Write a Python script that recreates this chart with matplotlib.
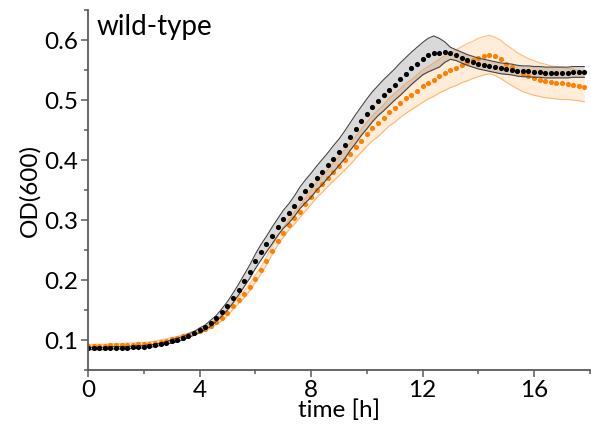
import numpy as np
import matplotlib
matplotlib.use("Agg")
import matplotlib.pyplot as plt
from matplotlib.ticker import MultipleLocator

plt.rcParams['font.family'] = ['Lato', 'DejaVu Sans']

# time points every 0.2 h (12 min)
time_h = np.round(np.arange(90) * 0.2, 1)

# wild-type, condition 1 (black) mean OD600
od_black = [
    0.086, 0.086, 0.086, 0.086, 0.087, 0.087, 0.087, 0.087, 0.088, 0.088,
    0.089, 0.090, 0.091, 0.093, 0.095, 0.098, 0.100, 0.103, 0.107, 0.111,
    0.116, 0.121, 0.128, 0.136, 0.146, 0.157, 0.170, 0.184, 0.199, 0.214,
    0.231, 0.246, 0.260, 0.274, 0.288, 0.301, 0.311, 0.323, 0.337, 0.348,
    0.358, 0.370, 0.380, 0.391, 0.402, 0.413, 0.425, 0.439, 0.452, 0.465,
    0.477, 0.489, 0.499, 0.508, 0.517, 0.526, 0.535, 0.544, 0.553, 0.561,
    0.569, 0.575, 0.579, 0.579, 0.580, 0.578, 0.575, 0.571, 0.567, 0.564,
    0.561, 0.559, 0.557, 0.555, 0.553, 0.552, 0.551, 0.549, 0.548, 0.548,
    0.547, 0.547, 0.546, 0.546, 0.546, 0.546, 0.546, 0.547, 0.547, 0.547,
]
sd_black = [
    0.002, 0.002, 0.002, 0.002, 0.002, 0.002, 0.002, 0.002, 0.002, 0.002,
    0.002, 0.002, 0.002, 0.002, 0.002, 0.003, 0.003, 0.003, 0.003, 0.003,
    0.004, 0.004, 0.005, 0.005, 0.006, 0.007, 0.008, 0.009, 0.010, 0.011,
    0.012, 0.013, 0.013, 0.014, 0.014, 0.015, 0.016, 0.017, 0.018, 0.019,
    0.020, 0.020, 0.021, 0.021, 0.022, 0.022, 0.023, 0.023, 0.024, 0.024,
    0.025, 0.025, 0.025, 0.026, 0.026, 0.026, 0.027, 0.027, 0.027, 0.027,
    0.027, 0.028, 0.028, 0.024, 0.017, 0.010, 0.009, 0.009, 0.009, 0.009,
    0.009, 0.009, 0.009, 0.009, 0.009, 0.009, 0.009, 0.009, 0.009, 0.009,
    0.009, 0.009, 0.009, 0.009, 0.009, 0.009, 0.009, 0.009, 0.009, 0.009,
]

# condition 2 (orange) mean OD600
od_orange = [
    0.090, 0.090, 0.090, 0.090, 0.091, 0.091, 0.091, 0.092, 0.092, 0.093,
    0.093, 0.094, 0.095, 0.097, 0.099, 0.101, 0.103, 0.106, 0.109, 0.112,
    0.115, 0.119, 0.124, 0.130, 0.137, 0.145, 0.156, 0.166, 0.176, 0.188,
    0.202, 0.216, 0.232, 0.249, 0.265, 0.279, 0.292, 0.303, 0.314, 0.326,
    0.338, 0.350, 0.360, 0.370, 0.380, 0.390, 0.400, 0.410, 0.421, 0.432,
    0.443, 0.453, 0.461, 0.470, 0.480, 0.487, 0.495, 0.503, 0.509, 0.516,
    0.523, 0.529, 0.534, 0.540, 0.545, 0.550, 0.554, 0.559, 0.563, 0.567,
    0.571, 0.574, 0.576, 0.573, 0.568, 0.561, 0.555, 0.549, 0.544, 0.540,
    0.537, 0.534, 0.532, 0.530, 0.529, 0.528, 0.527, 0.526, 0.524, 0.522,
]
sd_orange = [
    0.003, 0.003, 0.003, 0.003, 0.003, 0.003, 0.003, 0.003, 0.003, 0.003,
    0.003, 0.003, 0.003, 0.003, 0.003, 0.003, 0.003, 0.003, 0.003, 0.003,
    0.003, 0.004, 0.004, 0.004, 0.005, 0.005, 0.005, 0.005, 0.006, 0.006,
    0.006, 0.006, 0.007, 0.007, 0.007, 0.008, 0.009, 0.010, 0.010, 0.011,
    0.012, 0.013, 0.014, 0.014, 0.015, 0.016, 0.017, 0.018, 0.018, 0.019,
    0.020, 0.021, 0.022, 0.022, 0.023, 0.024, 0.024, 0.025, 0.025, 0.026,
    0.027, 0.027, 0.028, 0.028, 0.029, 0.029, 0.030, 0.030, 0.031, 0.031,
    0.032, 0.032, 0.032, 0.032, 0.032, 0.031, 0.031, 0.030, 0.030, 0.029,
    0.029, 0.028, 0.028, 0.027, 0.027, 0.027, 0.026, 0.026, 0.025, 0.025,
]

orange = '#ff8000'
spine_col = '#5a5a5a'

fig = plt.figure(figsize=(5.91, 4.41), dpi=100)
ax = fig.add_axes([0.149, 0.161, 0.849, 0.816])

ob = np.array(od_black); sb = np.array(sd_black)
oo = np.array(od_orange); so = np.array(sd_orange)

# orange band + dots first, grey band on top
ax.fill_between(time_h, oo - so, oo + so, color=orange, alpha=0.15, lw=0)
ax.plot(time_h, oo - so, color=orange, alpha=0.5, lw=0.8)
ax.plot(time_h, oo + so, color=orange, alpha=0.5, lw=0.8)
ax.plot(time_h, oo, 'o', color=orange, ms=3.7, mec='none')

ax.fill_between(time_h, ob - sb, ob + sb, color='black', alpha=0.15, lw=0)
ax.plot(time_h, ob - sb, color='#444444', lw=0.8)
ax.plot(time_h, ob + sb, color='#444444', lw=0.8)
ax.plot(time_h, ob, 'o', color='black', ms=3.7, mec='none')

ax.set_xlim(0, 18)
ax.set_ylim(0.05, 0.65)
ax.xaxis.set_major_locator(MultipleLocator(4))
ax.xaxis.set_minor_locator(MultipleLocator(2))
ax.yaxis.set_minor_locator(MultipleLocator(0.05))
ax.set_yticks([0.1, 0.2, 0.3, 0.4, 0.5, 0.6])
ax.set_yticklabels(['0.1', '0.2', '0.3', '0.4', '0.5', '0.6'])

for side in ['top', 'right']:
    ax.spines[side].set_visible(False)
for side in ['left', 'bottom']:
    ax.spines[side].set_color(spine_col)
    ax.spines[side].set_linewidth(1.3)

ax.tick_params(which='major', direction='out', length=5, width=1.1,
               color=spine_col, labelsize=17.5, pad=2)
ax.tick_params(which='minor', direction='out', length=3, width=1.1,
               color=spine_col)

ax.set_xlabel('time [h]', fontsize=17.5, labelpad=-1)
ax.set_ylabel('OD(600)', fontsize=17.5, labelpad=3)
ax.text(0.016, 0.99, 'wild-type', transform=ax.transAxes,
        fontsize=20, va='top', ha='left')

fig.savefig('out.png', dpi=100)
